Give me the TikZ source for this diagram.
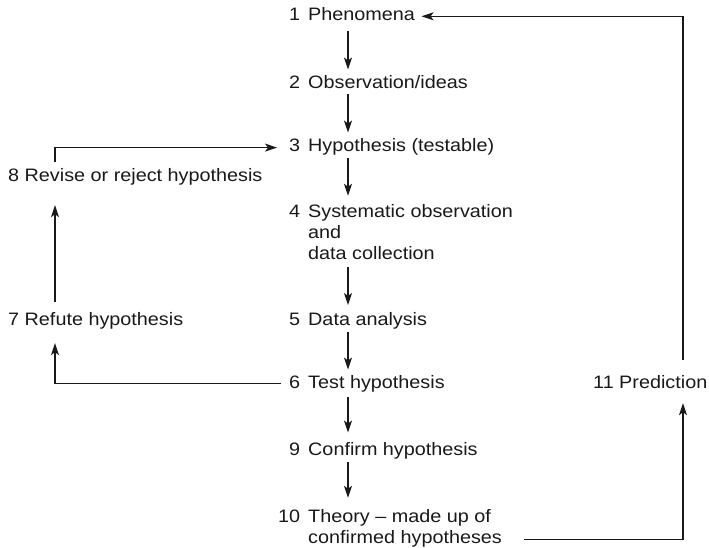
\documentclass[tikz,border=0pt]{standalone}
\usepackage{fontspec}
\setmainfont{Liberation Sans}[FakeStretch=1.1]
\usetikzlibrary{arrows.meta}
\newcommand\numlab[1]{\makebox[22pt][r]{#1}\hspace{8pt}}
\begin{document}
\begin{tikzpicture}[x=1pt,y=-1pt,
  every node/.style={inner sep=0pt, anchor=base west, font=\fontsize{18}{21.5}\selectfont, text=black!90},
  one/.style={text height=12.8pt, text depth=4pt},
  arr/.style={line width=1.2pt, draw=black!90, -{Stealth[length=12pt,width=8pt,inset=3pt]}}]
\fill[white] (0,0) rectangle (709,548);
\useasboundingbox (0,0) rectangle (709,548);

\coordinate (ax) at (348,0);
\coordinate (lx) at (55,0);
\coordinate (rx) at (683,0);

\node[one] (p1) at (278,20.7) {\numlab{1}Phenomena};
\node[one] (p2) at (278,89) {\numlab{2}Observation/ideas};
\node[one] (p3) at (278,152) {\numlab{3}Hypothesis (testable)};
\node (p4) at (278,217) {\begin{tabular}[t]{@{}l@{}}\numlab{4}Systematic observation\\\hspace{30pt}and\\\hspace{30pt}data collection\end{tabular}};
\node[one] (p5) at (278,325) {\numlab{5}Data analysis};
\node[one] (p6) at (278,388) {\numlab{6}Test hypothesis};
\node[one] (p9) at (278,455) {\numlab{9}Confirm hypothesis};
\node (p10) at (278,522) {\begin{tabular}[t]{@{}l@{}}\numlab{10}Theory – made up of\\\hspace{30pt}confirmed hypotheses\end{tabular}};
\node[one] (p7) at (8,325) {7 Refute hypothesis};
\node[one] (p8) at (8,182) {8 Revise or reject hypothesis};
\node[one] (p11) at (593,388) {11 Prediction};

\draw[arr, shorten <=6pt, shorten >=6.5pt] (p1.south -| ax) -- (p2.north -| ax);
\draw[arr, shorten <=1pt, shorten >=6.5pt] (p2.south -| ax) -- (p3.north -| ax);
\draw[arr, shorten <=2pt, shorten >=6pt] (p3.south -| ax) -- (p4.north -| ax);
\draw[arr, shorten <=0.5pt, shorten >=7pt] (p4.south -| ax) -- (p5.north -| ax);
\draw[arr, shorten <=3pt, shorten >=5.5pt] (p5.south -| ax) -- (p6.north -| ax);
\draw[arr, shorten <=5pt, shorten >=9.5pt] (p6.south -| ax) -- (p9.north -| ax);
\draw[arr, shorten <=3pt, shorten >=9pt] (p9.south -| ax) -- (p10.north -| ax);

\draw[arr, shorten <=-3pt, shorten >=14pt] (p6.west) -| (p7.south -| lx);
\draw[arr, shorten <=10.5pt, shorten >=19pt] (p7.north -| lx) -- (p8.south -| lx);
\draw[arr, shorten <=6.5pt, shorten >=1pt] (p8.north -| lx) |- (p3.west);

\draw[arr, shorten >=11pt] ([shift={(22pt,10.5pt)}]p10.south east) -| (p11.south -| rx);
\draw[arr, shorten <=15.5pt, shorten >=6.4pt] (p11.north -| rx) |- (p1.east);
\end{tikzpicture}
\end{document}
